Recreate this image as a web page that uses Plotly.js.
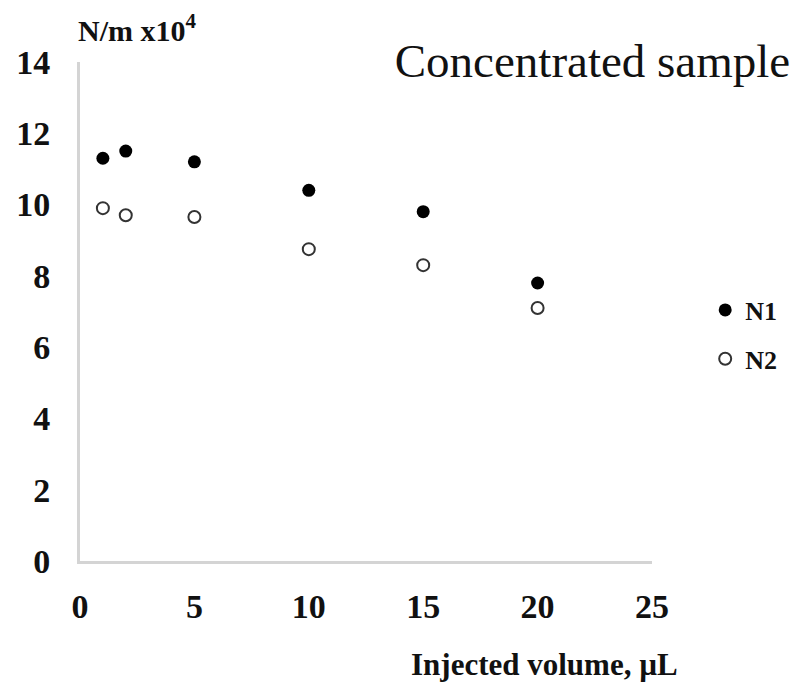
<!DOCTYPE html>
<html>
<head>
<meta charset="utf-8">
<script src="https://cdn.plot.ly/plotly-3.0.1.min.js"></script>
<style>html,body{margin:0;padding:0;background:#fff;}#chart{width:799px;height:691px;}</style>
</head>
<body>
<div id="chart"></div>
<script>
const injectedVolume = [1, 2, 5, 10, 15, 20];
const n1Values = [11.3, 11.5, 11.2, 10.4, 9.8, 7.8];
const n2Values = [9.9, 9.7, 9.65, 8.75, 8.3, 7.1];
const xTicks = [0, 5, 10, 15, 20, 25];
const yTicks = [0, 2, 4, 6, 8, 10, 12, 14];

const serif = 'Liberation Serif, Times New Roman, serif';

const traces = [
  {
    x: injectedVolume, y: n1Values, name: 'N1', type: 'scatter', mode: 'markers',
    legendgroup: 'a',
    marker: {symbol: 'circle', size: 13, color: '#000', line: {width: 0}}
  },
  {
    x: injectedVolume, y: n2Values, name: 'N2', type: 'scatter', mode: 'markers',
    legendgroup: 'b',
    marker: {symbol: 'circle-open', size: 12, color: '#333', line: {width: 2, color: '#333'}}
  }
];

const layout = {
  width: 799, height: 691,
  margin: {l: 80, r: 147, t: 62, b: 130},
  paper_bgcolor: '#fff', plot_bgcolor: '#fff',
  showlegend: true,
  title: {
    text: 'Concentrated sample',
    font: {family: serif, size: 47, color: '#111'},
    x: 0.989, xanchor: 'right', xref: 'container',
    y: 0.913, yanchor: 'middle', yref: 'container'
  },
  xaxis: {
    range: [0, 25], tickvals: xTicks, ticktext: xTicks.map(String),
    showgrid: false, zeroline: false, showline: true, linecolor: '#d4d4d4', linewidth: 3,
    ticks: '', ticklabelstandoff: 13,
    tickfont: {family: serif, size: 34, color: '#111', weight: 'bold'}
  },
  yaxis: {
    range: [0, 14], tickvals: yTicks, ticktext: yTicks.map(String),
    showgrid: false, zeroline: false, showline: true, linecolor: '#d4d4d4', linewidth: 3,
    ticks: '', ticklabelstandoff: 20,
    tickfont: {family: serif, size: 34, color: '#111', weight: 'bold'}
  },
  legend: {
    x: 1.093, xanchor: 'left', y: 0.55, yanchor: 'top',
    font: {family: serif, size: 26, color: '#111', weight: 'bold'},
    tracegroupgap: 12, bgcolor: 'rgba(0,0,0,0)'
  },
  annotations: [
    {
      text: 'N/m x10<sup>4</sup>', xref: 'paper', yref: 'paper',
      x: -0.007, xanchor: 'left', y: 1.0 + 34 / 499, yanchor: 'middle', showarrow: false,
      font: {family: serif, size: 30, color: '#111', weight: 'bold'}
    },
    {
      text: 'Injected volume, µL', xref: 'paper', yref: 'paper',
      x: (544 - 80) / 572, xanchor: 'center', y: -(664 - 561) / 499, yanchor: 'middle', showarrow: false,
      font: {family: serif, size: 31, color: '#111', weight: 'bold'}
    }
  ]
};

Plotly.newPlot('chart', traces, layout, {displayModeBar: false, staticPlot: true});
</script>
</body>
</html>
